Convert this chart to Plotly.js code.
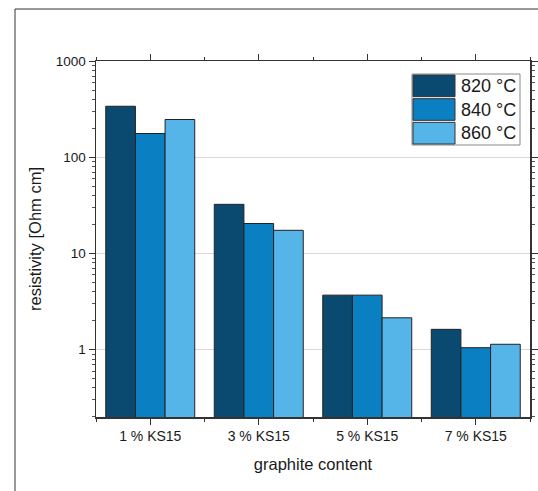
<!DOCTYPE html>
<html>
<head>
<meta charset="utf-8">
<script src="https://cdn.plot.ly/plotly-3.0.1.min.js"></script>
<style>html,body{margin:0;padding:0;background:#fff;}#chart{width:538px;height:491px;}</style>
</head>
<body>
<div id="chart"></div>
<script>
var categories = ["1 % KS15", "3 % KS15", "5 % KS15", "7 % KS15"];
var seriesNames = ["820 °C", "840 °C", "860 °C"];
var values820 = [342, 32.6, 3.7, 1.63];
var values840 = [178, 20.6, 3.7, 1.05];
var values860 = [249, 17.5, 2.15, 1.14];
var colors = ["#0b4a70", "#0a7fc2", "#55b5e9"];
var yTickVals = [1, 10, 100, 1000];
var yTickText = ["1", "10", "100", "1000"];

var seriesValues = [values820, values840, values860];
var idx = categories.map(function(c, i){ return i; });

var traces = seriesValues.map(function(vals, s){
  return {
    type: 'bar', x: idx, y: vals, name: seriesNames[s],
    marker: {color: colors[s], line: {color: '#222', width: 1}},
    showlegend: false, hovertemplate: '%{y}<extra>' + seriesNames[s] + '</extra>'
  };
});

var L = 96, R = 8, T = 61, B = 74, W = 538, H = 491;
var pw = W - L - R, ph = H - T - B;
function px(x){ return (x - L) / pw; }
function py(y){ return (H - B - y) / ph; }

var FONT = 'Liberation Sans, Arial, sans-serif';
var shapes = [
  {type:'line', xref:'paper', yref:'paper', x0:px(15), x1:px(15), y0:py(9), y1:py(500), line:{color:'#333', width:1}},
  {type:'line', xref:'paper', yref:'paper', x0:px(15), x1:px(545), y0:py(9), y1:py(9), line:{color:'#333', width:1}}
];
var annotations = [];
// custom legend built from series arrays
var lgL = 412, lgR = 520, lgT = 74, lgB = 145, swR = 455;
var rowH = (lgB - lgT) / seriesNames.length;
shapes.push({type:'rect', xref:'paper', yref:'paper', x0:px(lgL), x1:px(lgR), y0:py(lgT), y1:py(lgB), line:{color:'#888', width:1}, fillcolor:'#fff', layer:'above'});
seriesNames.forEach(function(n, s){
  var y0 = lgT + s*rowH + 1, y1 = lgT + (s+1)*rowH - 1;
  shapes.push({type:'rect', xref:'paper', yref:'paper', x0:px(lgL+1), x1:px(swR), y0:py(y0), y1:py(y1), fillcolor:colors[s], line:{color:'#333', width:1}, layer:'above'});
  annotations.push({xref:'paper', yref:'paper', x:px(swR+4), y:py((y0+y1)/2), xanchor:'left', yanchor:'middle', text:n, showarrow:false, font:{family:FONT, size:18, color:'#1a1a1a'}});
});

var layout = {
  width: W, height: H,
  margin: {l: L, r: R, t: T, b: B, pad: 0},
  paper_bgcolor: '#fff', plot_bgcolor: '#fff',
  font: {family: FONT, color: '#1a1a1a'},
  barmode: 'group', bargap: 0.18, bargroupgap: 0,
  showlegend: false,
  xaxis: {
    range: [-0.5, 3.5], tickvals: idx, ticktext: categories,
    ticks: 'outside', ticklen: 6, tickwidth: 1, tickcolor: '#333',
    minor: {dtick: 0.5, tick0: 0.5, ticks: 'outside', ticklen: 3, tickcolor: '#333'},
    showline: true, linecolor: '#333', linewidth: 1.5, mirror: 'ticks',
    showgrid: false, zeroline: false,
    tickfont: {size: 14, color: '#1a1a1a'},
    title: {text: 'graphite content', font: {size: 16.5, color: '#1a1a1a'}, standoff: 15}
  },
  yaxis: {
    type: 'log', range: [-0.7, 3.005],
    tickvals: yTickVals, ticktext: yTickText,
    ticks: 'outside', ticklen: 6, tickwidth: 1, tickcolor: '#333',
    minor: {tickmode: 'linear', dtick: 'D1', ticks: 'outside', ticklen: 3, tickwidth: 1, tickcolor: '#555', showgrid: false},
    showline: true, linecolor: '#333', linewidth: 1.5, mirror: 'ticks',
    showgrid: true, gridcolor: '#d8d8d8', gridwidth: 1.5, zeroline: false,
    tickfont: {size: 13.5, color: '#1a1a1a'},
    title: {text: 'resistivity [Ohm cm]', font: {size: 16.5, color: '#1a1a1a'}, standoff: 10}
  },
  shapes: shapes,
  annotations: annotations
};

Plotly.newPlot('chart', traces, layout, {displayModeBar: false, staticPlot: true});
</script>
</body>
</html>
